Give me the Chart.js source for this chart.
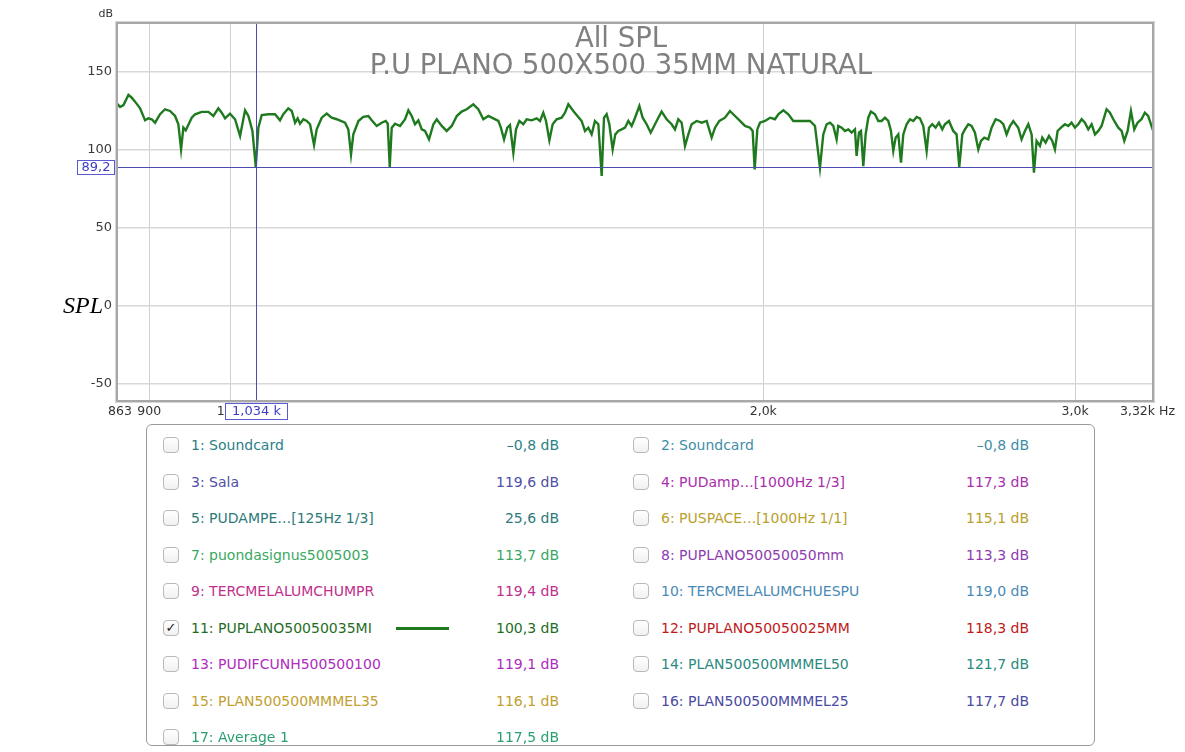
<!DOCTYPE html>
<html>
<head>
<meta charset="utf-8">
<script src="https://cdn.jsdelivr.net/npm/chart.js@4.4.1/dist/chart.umd.min.js"></script>
<style>
  body { margin: 0; background: #fff; }
  #page { position: relative; width: 1185px; height: 752px; overflow: hidden; }
  #chart { position: absolute; left: 0; top: 0; }
  #axis-title { position: absolute; left: 63px; top: 292px; font: italic 24px "Liberation Serif", serif; color: #000; }
  #legend {
    position: absolute; left: 146px; top: 424px; width: 949px; height: 322px;
    border: 1px solid #9a9a9a; border-radius: 6px; box-sizing: border-box; background: #fff;
    font-family: "DejaVu Sans", sans-serif; font-size: 14px;
  }
  .box {
    position: absolute; width: 16px; height: 16px; box-sizing: border-box;
    border: 1px solid #b9b9b9; border-radius: 4px; background: linear-gradient(#fff, #f1f1f1);
    font-size: 13px; line-height: 14px; text-align: center; color: #222;
  }
  .name, .level { position: absolute; white-space: nowrap; line-height: 18px; }
  .level { text-align: right; width: 120px; }
  .swatch { position: absolute; width: 53px; height: 3px; }
</style>
</head>
<body>
<div id="page">
  <canvas id="chart" width="1185" height="425"></canvas>
  <div id="axis-title">SPL</div>
  <div id="legend"></div>
</div>
<script>
// measured trace 11 (green), frequency in Hz / level in dB
const freqHz = [
  863, 866.5, 870.3, 875.9, 879.7, 883.5, 889.3, 895.1, 898.9, 902.8,
  906.8, 912.7, 918.6, 924.6, 930.7, 934.7, 938.0, 940.8, 943.7, 946.2,
  951.1, 955.2, 963.5, 971.9, 978.2, 984.6, 988.9, 993.2, 999.6, 1006.2,
  1012.8, 1019.4, 1023.8, 1029.2, 1033.7, 1037.2, 1041.7, 1050.8, 1059.9, 1066.8,
  1071.4, 1078.4, 1083.2, 1087.9, 1091.6, 1094.9, 1099.7, 1104.5, 1109.3, 1115.1,
  1118.9, 1126.3, 1133.6, 1140.9, 1148.4, 1160.9, 1165.9, 1170.0, 1173.5, 1181.3,
  1188.9, 1196.7, 1201.9, 1209.8, 1217.6, 1224.0, 1227.2, 1230.4, 1233.6, 1239.0,
  1247.0, 1255.2, 1260.6, 1266.1, 1271.5, 1277.1, 1282.7, 1288.2, 1294.9, 1302.3,
  1308.0, 1316.5, 1325.0, 1333.7, 1342.5, 1351.1,
  1359.9, 1371.7, 1380.6, 1389.7, 1398.7, 1407.8, 1417.1, 1421.4, 1427.6, 1433.7,
  1438.7, 1445.0, 1450.0, 1456.3, 1463.9, 1470.2, 1479.9, 1489.5, 1496.0, 1502.4,
  1507.7, 1514.3, 1520.8, 1528.7, 1538.7, 1545.4, 1552.1, 1562.2, 1572.3, 1579.2,
  1586.1, 1593.0, 1599.9, 1606.8, 1613.9, 1620.9, 1625.8, 1631.4, 1637.1, 1644.2,
  1649.9, 1656.4, 1663.6, 1670.8, 1678.1, 1685.4, 1692.8, 1702.3, 1709.6, 1718.5,
  1727.6, 1737.3, 1744.8, 1752.3, 1763.8, 1775.3, 1783.0, 1790.7, 1798.6, 1806.4,
  1814.2, 1822.1, 1834.0, 1846.0, 1858.0, 1870.1, 1878.3, 1888.9, 1902.8, 1915.2,
  1927.8, 1940.3, 1953.0, 1965.8, 1972.6, 1977.7, 1984.5, 1991.4, 2004.5, 2017.6,
  2030.6, 2039.5, 2052.8, 2066.2, 2079.6, 2093.3, 2111.5,
  2125.2, 2139.1, 2153.0, 2162.3, 2171.7, 2181.2, 2190.6, 2200.1, 2204.8, 2214.5,
  2224.2, 2233.9, 2243.5, 2253.2, 2258.1, 2265.1, 2271.0, 2277.8, 2284.7, 2292.6,
  2300.5, 2312.6, 2322.7, 2332.8, 2342.9, 2353.0, 2361.2, 2368.4, 2375.6, 2383.9,
  2392.2, 2399.4, 2409.8, 2420.3, 2430.9, 2441.4, 2451.9, 2462.6, 2473.4, 2480.9,
  2491.6, 2502.4, 2513.2, 2524.2, 2532.8, 2546.2, 2560.5, 2571.6, 2580.6, 2590.8,
  2599.7, 2611.0, 2622.3, 2633.8, 2645.3, 2654.5, 2665.9, 2679.7, 2691.4, 2705.5,
  2720.8, 2732.6, 2744.4, 2756.4, 2768.4, 2786.4, 2798.4, 2810.7, 2823.0, 2835.2,
  2843.8, 2853.6, 2866.0, 2874.8, 2887.3, 2899.9, 2912.4, 2922.4, 2932.6, 2945.5,
  2960.8, 2973.6, 2986.4, 2999.5, 3012.6, 3025.7, 3038.8, 3051.9, 3065.3, 3078.7,
  3092.1, 3105.4, 3125.5, 3139.2, 3152.9, 3173.4, 3187.1, 3198.3, 3212.2, 3226.1,
  3240.1, 3254.1, 3270.6, 3284.9, 3299.2, 3313.5, 3320
];
const splDb = [
  129.7, 127.6, 128.8, 135.3, 133.5, 131.0, 126.7, 119.0, 120.3, 119.7,
  117.5, 122.9, 126.1, 125.0, 121.8, 116.5, 100.4, 114.3, 112.6, 115.4,
  120.7, 122.9, 124.4, 124.4, 121.8, 126.7, 123.9, 120.3, 123.3, 119.7,
  109.0, 125.4, 121.8, 112.2, 89.2, 114.3, 122.4, 122.9, 122.9, 119.0,
  122.9, 126.7, 125.0, 117.5, 120.3, 116.9, 119.7, 118.6, 116.5, 103.2,
  113.2, 120.7, 123.3, 120.7, 119.7, 117.5, 113.2, 97.2, 110.0, 118.6,
  121.2, 121.8, 119.0, 115.4, 117.5, 118.6, 116.9, 89.1, 114.3, 116.9,
  115.4, 119.7, 125.4, 121.8, 116.5, 119.0, 113.2, 112.2, 106.8, 116.5,
  119.7, 115.4, 112.2, 115.4, 121.8, 124.6,
  126.1, 129.3, 126.1, 119.7, 121.8, 120.3, 118.6, 114.7, 106.8, 114.3,
  116.0, 98.3, 113.2, 118.6, 116.5, 119.7, 119.0, 120.3, 118.6, 123.9,
  118.6, 106.2, 116.5, 119.7, 120.7, 123.9, 129.3, 125.0, 121.2, 118.6,
  112.2, 114.3, 110.0, 118.6, 116.5, 83.3, 120.7, 122.9, 116.5, 100.4,
  110.0, 112.2, 113.2, 114.3, 118.6, 115.4, 120.7, 128.2, 120.7, 116.5,
  111.1, 116.5, 120.7, 124.6, 119.7, 116.5, 113.2, 119.7, 117.5, 102.6,
  110.0, 116.5, 118.6, 117.5, 118.6, 107.9, 114.3, 118.6, 120.7, 125.0,
  121.8, 118.6, 115.4, 114.3, 112.2, 87.6, 113.2, 117.5, 118.6, 120.7,
  119.7, 122.9, 125.4, 122.9, 118.6, 118.6, 118.6,
  118.6, 115.4, 88.7, 110.0, 116.5, 117.5, 115.4, 106.8, 115.4, 114.3,
  112.2, 113.2, 111.1, 113.2, 96.2, 111.1, 112.2, 89.7, 110.0, 120.7,
  124.6, 122.9, 118.6, 118.6, 120.7, 118.6, 112.2, 99.4, 107.9, 110.0,
  91.9, 110.0, 116.5, 119.7, 118.6, 121.2, 120.3, 115.4, 99.4, 114.3,
  116.5, 114.3, 117.5, 113.2, 116.5, 118.6, 112.2, 110.0, 89.1, 110.0,
  113.2, 116.5, 115.4, 111.1, 100.4, 105.8, 107.9, 106.8, 114.3, 119.7,
  118.6, 116.5, 110.0, 115.4, 118.6, 114.3, 106.8, 112.2, 116.5, 110.0,
  85.5, 105.8, 102.6, 107.9, 104.7, 109.0, 105.8, 100.4, 112.2, 114.3,
  116.5, 115.4, 117.5, 114.3, 116.5, 119.7, 117.5, 113.2, 116.5, 110.0,
  112.2, 115.4, 126.1, 123.9, 119.7, 114.3, 112.2, 105.8, 112.2, 125.0,
  113.2, 117.5, 119.7, 123.9, 121.8, 115.4, 112.5
];

const titleLines = ["All SPL", "P.U PLANO 500X500 35MM NATURAL"];
const xTickValues = [863, 900, 1000, 2000, 3000, 3320];
const xTickLabels = ["863", "900", "1,0k", "2,0k", "3,0k", "3,32k Hz"];
const yTickValues = [-50, 0, 50, 100, 150];
const cursorHz = 1034;
const cursorDb = 89.2;

const traceNames = [
  "1: Soundcard", "2: Soundcard", "3: Sala", "4: PUDamp…[1000Hz 1/3]",
  "5: PUDAMPE…[125Hz 1/3]", "6: PUSPACE…[1000Hz 1/1]", "7: puondasignus5005003",
  "8: PUPLANO50050050mm", "9: TERCMELALUMCHUMPR", "10: TERCMELALUMCHUESPU",
  "11: PUPLANO50050035MI", "12: PUPLANO50050025MM", "13: PUDIFCUNH500500100",
  "14: PLAN500500MMMEL50", "15: PLAN500500MMMEL35", "16: PLAN500500MMMEL25",
  "17: Average 1"
];
const traceLevels = [
  "–0,8 dB", "–0,8 dB", "119,6 dB", "117,3 dB", "25,6 dB", "115,1 dB", "113,7 dB",
  "113,3 dB", "119,4 dB", "119,0 dB", "100,3 dB", "118,3 dB", "119,1 dB",
  "121,7 dB", "116,1 dB", "117,7 dB", "117,5 dB"
];
const traceColors = [
  "#2b7f88", "#3f8ea8", "#4f4fa8", "#aa2eae", "#2e7a7a", "#b9a02c", "#3aa862",
  "#8e3cb0", "#bf2f8c", "#4a8ab6", "#1f6e1f", "#c01a1a", "#ae2cbe", "#2a8a80",
  "#c0a030", "#4a4aa2", "#2aa070"
];
const shownTrace = 10;

const FONT = "DejaVu Sans, sans-serif";
const CURSOR = "#4b4bb0";

const overlay = {
  id: "overlay",
  beforeDatasetsDraw(chart) {
    const { ctx } = chart;
    ctx.save();
    ctx.fillStyle = "#808080";
    ctx.font = `27.5px ${FONT}`;
    ctx.textAlign = "center";
    ctx.textBaseline = "alphabetic";
    ctx.fillText(titleLines[0], 621, 47);
    ctx.fillText(titleLines[1], 621, 74);
    ctx.restore();
  },
  afterDatasetsDraw(chart) {
    const { ctx, chartArea: a, scales: { x, y } } = chart;
    const cx = Math.round(x.getPixelForValue(cursorHz)) + 0.5;
    const cy = Math.round(y.getPixelForValue(cursorDb)) + 0.5;
    ctx.save();

    // cursor cross
    ctx.strokeStyle = CURSOR;
    ctx.lineWidth = 1;
    ctx.beginPath();
    ctx.moveTo(cx, a.top);
    ctx.lineTo(cx, a.bottom + 3);
    ctx.moveTo(a.left, cy);
    ctx.lineTo(a.right, cy);
    ctx.stroke();

    // frame
    ctx.strokeStyle = "#d6d6d6";
    ctx.lineWidth = 1;
    ctx.strokeRect(a.left - 1.5, a.top - 1.5, a.width + 3, a.height + 3);
    ctx.strokeStyle = "#a8a8a8";
    ctx.lineWidth = 2;
    ctx.strokeRect(a.left, a.top, a.width, a.height);

    // x labels
    ctx.fillStyle = "#333";
    ctx.font = `12.5px ${FONT}`;
    ctx.textBaseline = "middle";
    xTickValues.forEach((v, i) => {
      const px = x.getPixelForValue(v);
      let align = "center";
      let off = 0;
      if (i === 0) { off = 3; }
      if (i === xTickValues.length - 1) { align = "right"; off = 22; }
      ctx.textAlign = align;
      ctx.fillText(xTickLabels[i], px + off, a.bottom + 11);
    });

    // unit
    ctx.font = `11px ${FONT}`;
    ctx.textAlign = "right";
    ctx.fillText("dB", a.left - 4, 14);

    // cursor readouts
    ctx.font = `13px ${FONT}`;
    ctx.lineWidth = 1;
    ctx.strokeStyle = "#5a5ad2";
    ctx.fillStyle = "#fff";
    ctx.fillRect(77.5, cy - 7, 37, 14);
    ctx.strokeRect(77.5, cy - 7, 37, 14);
    ctx.fillStyle = "#3c3cc8";
    ctx.textAlign = "center";
    ctx.fillText("89,2", 96, cy + 0.5);

    ctx.fillStyle = "#fff";
    ctx.fillRect(cx - 31, a.bottom + 2.5, 62, 16);
    ctx.strokeRect(cx - 31, a.bottom + 2.5, 62, 16);
    ctx.fillStyle = "#3c3cc8";
    ctx.fillText("1,034 k", cx, a.bottom + 11);
    ctx.restore();
  }
};

new Chart(document.getElementById("chart"), {
  type: "line",
  data: {
    datasets: [
      {
        label: traceNames[shownTrace],
        data: freqHz.map((f, i) => ({ x: f, y: splDb[i] })),
        borderColor: "#1f7a1f",
        borderWidth: 2.4,
        pointRadius: 0,
        tension: 0,
      },
    ],
  },
  options: {
    responsive: false,
    animation: false,
    layout: { padding: { left: 0, top: 23, right: 32, bottom: 0 } },
    plugins: { legend: { display: false }, tooltip: { enabled: false } },
    scales: {
      x: {
        type: "logarithmic",
        min: 863,
        max: 3320,
        afterBuildTicks: (s) => { s.ticks = xTickValues.map((v) => ({ value: v })); },
        afterFit: (s) => { s.height = 24; },
        ticks: { display: false },
        border: { display: false },
        grid: {
          drawTicks: false,
          lineWidth: 1,
          color: (c) => (c.tick && (c.tick.value === 863 || c.tick.value === 3320) ? "rgba(0,0,0,0)" : "#cfcfcf"),
        },
      },
      y: {
        type: "linear",
        min: -60.9,
        max: 181.4,
        afterBuildTicks: (s) => { s.ticks = yTickValues.map((v) => ({ value: v })); },
        afterFit: (s) => { s.width = 117; },
        ticks: {
          color: "#3a3a3a",
          padding: 5,
          font: { family: FONT, size: 13 },
        },
        border: { display: false },
        grid: { drawTicks: false, color: "#d8d8d8", lineWidth: 1.5 },
      },
    },
  },
  plugins: [overlay],
});

// trace list panel
const panel = document.getElementById("legend");
traceNames.forEach((name, i) => {
  const col = i % 2;
  const row = Math.floor(i / 2);
  const mid = 20 + row * 36.5;
  const boxLeft = col === 0 ? 16 : 486;
  const textLeft = col === 0 ? 44 : 514;
  const levelRight = col === 0 ? 412 : 882;

  const box = document.createElement("div");
  box.className = "box";
  box.style.left = boxLeft + "px";
  box.style.top = (mid - 8) + "px";
  if (i === shownTrace) box.textContent = "✓";
  panel.appendChild(box);

  const label = document.createElement("div");
  label.className = "name";
  label.style.left = textLeft + "px";
  label.style.top = (mid - 9) + "px";
  label.style.color = traceColors[i];
  label.textContent = name;
  panel.appendChild(label);

  const level = document.createElement("div");
  level.className = "level";
  level.style.left = (levelRight - 120) + "px";
  level.style.top = (mid - 9) + "px";
  level.style.color = traceColors[i];
  level.textContent = traceLevels[i];
  panel.appendChild(level);

  if (i === shownTrace) {
    const sw = document.createElement("div");
    sw.className = "swatch";
    sw.style.left = "249px";
    sw.style.top = (mid - 1) + "px";
    sw.style.background = "#1f7a1f";
    panel.appendChild(sw);
  }
});
</script>
</body>
</html>
